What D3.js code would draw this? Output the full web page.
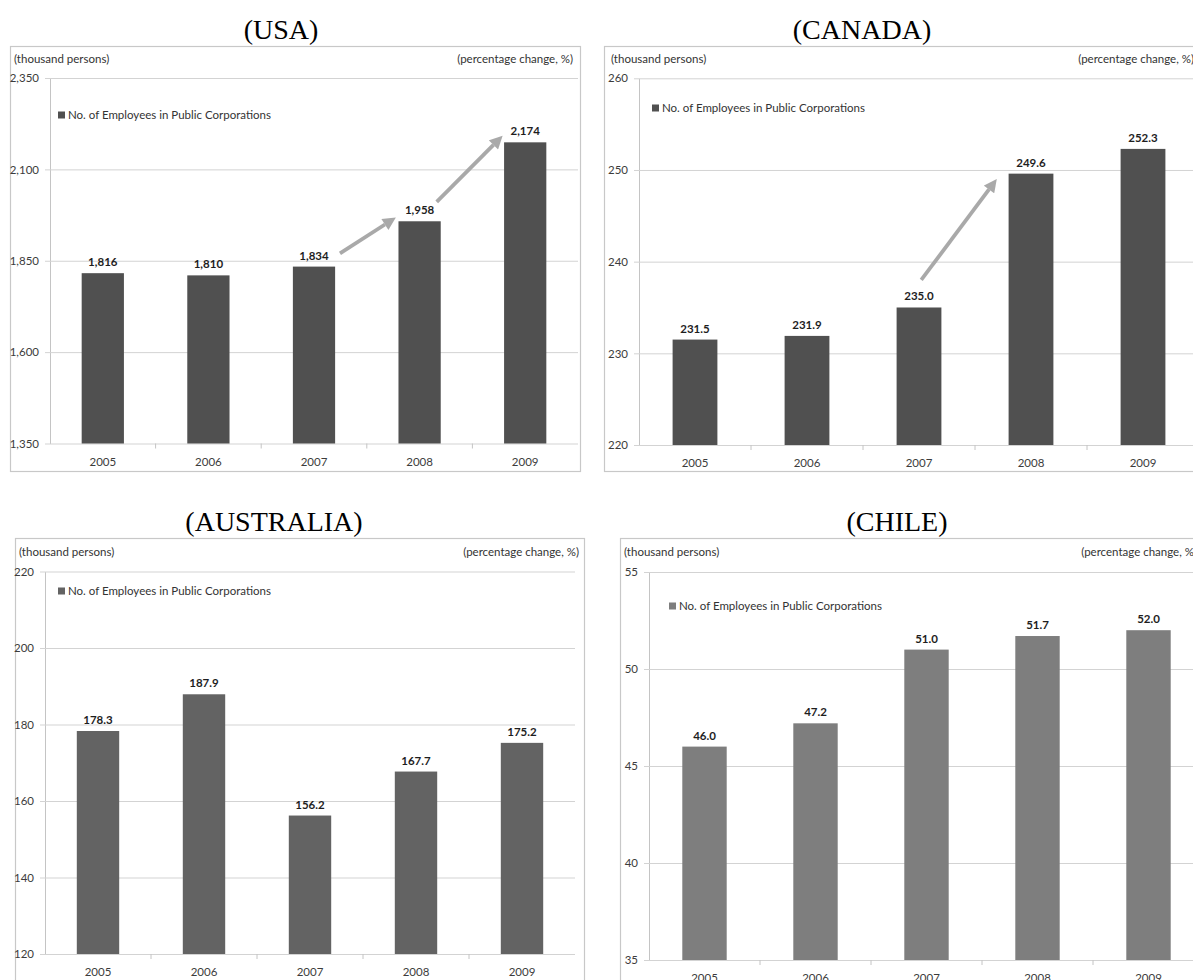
<!DOCTYPE html>
<html>
<head>
<meta charset="utf-8">
<script src="https://cdn.jsdelivr.net/npm/d3@7"></script>
<style>
  body { margin: 0; background: #ffffff; }
  svg { display: block; }
</style>
</head>
<body>
<svg id="chart" width="1193" height="980"></svg>
<script>
// ---- data ----
const years = ["2005", "2006", "2007", "2008", "2009"];

const usaEmployees       = [1816, 1810, 1834, 1958, 2174];
const canadaEmployees    = [231.5, 231.9, 235.0, 249.6, 252.3];
const australiaEmployees = [178.3, 187.9, 156.2, 167.7, 175.2];
const chileEmployees     = [46.0, 47.2, 51.0, 51.7, 52.0];

const usaTicks       = [1350, 1600, 1850, 2100, 2350];
const canadaTicks    = [220, 230, 240, 250, 260];
const australiaTicks = [120, 140, 160, 180, 200, 220];
const chileTicks     = [35, 40, 45, 50, 55];

const countryTitles = ["(USA)", "(CANADA)", "(AUSTRALIA)", "(CHILE)"];
const seriesName = "No. of Employees in Public Corporations";
const unitLeft = "(thousand persons)";
const unitRight = "(percentage change, %)";

// growth arrows, given in data units: year + value at each end,
// plus a fractional shift along the band step
const usaArrows = [
  { from: "2007", fromShift: 0.246, fromValue: 1870, to: "2008", toShift: -0.217, toValue: 1970 },
  { from: "2008", fromShift: 0.162, fromValue: 2011, to: "2009", toShift: -0.207, toValue: 2194 }
];
const canadaArrows = [
  { from: "2007", fromShift: 0.02, fromValue: 238.0, to: "2008", toShift: -0.30, toValue: 249.1 }
];

// ---- layout & style ----
const sansFont = "Lato, 'Open Sans', sans-serif";
const serifFont = "'Liberation Serif', 'Times New Roman', serif";
const smallSize = 11.5;

const panels = [
  {
    title: countryTitles[0], values: usaEmployees, ticks: usaTicks,
    tickFmt: d3.format(","), valueFmt: d3.format(","),
    arrows: usaArrows, barColor: "#505050",
    box: { x: 10, y: 46, w: 570, h: 425 },
    plot: { x0: 50, x1: 578, y0: 78, y1: 443.5 },
    titleX: 281, titleY: 39, headerY: 63, unitLeftX: 14, unitRightX: 573,
    legendX: 58, legendY: 115
  },
  {
    title: countryTitles[1], values: canadaEmployees, ticks: canadaTicks,
    tickFmt: d3.format("d"), valueFmt: d3.format(".1f"),
    arrows: canadaArrows, barColor: "#505050",
    box: { x: 604, y: 46, w: 600, h: 425 },
    plot: { x0: 639, x1: 1199, y0: 78.3, y1: 445 },
    titleX: 862, titleY: 39, headerY: 63, unitLeftX: 611, unitRightX: 1194,
    legendX: 652, legendY: 108
  },
  {
    title: countryTitles[2], values: australiaEmployees, ticks: australiaTicks,
    tickFmt: d3.format("d"), valueFmt: d3.format(".1f"),
    arrows: [], barColor: "#636363",
    box: { x: 15, y: 538, w: 569, h: 470 },
    plot: { x0: 45, x1: 575, y0: 571.5, y1: 954 },
    titleX: 274, titleY: 531, headerY: 556, unitLeftX: 19, unitRightX: 579,
    legendX: 58, legendY: 591
  },
  {
    title: countryTitles[3], values: chileEmployees, ticks: chileTicks,
    tickFmt: d3.format("d"), valueFmt: d3.format(".1f"),
    arrows: [], barColor: "#7e7e7e",
    box: { x: 620, y: 538, w: 600, h: 470 },
    plot: { x0: 649, x1: 1204, y0: 572, y1: 960 },
    titleX: 897, titleY: 531, headerY: 556, unitLeftX: 624, unitRightX: 1197,
    legendX: 669, legendY: 606
  }
];

const svg = d3.select("#chart");
svg.append("rect").attr("width", 1193).attr("height", 980).attr("fill", "#ffffff");

// arrowhead shared by the growth arrows
const headLen = 14;
svg.append("defs").append("marker")
  .attr("id", "growthHead")
  .attr("viewBox", "0 0 10 10")
  .attr("refX", 0).attr("refY", 5)
  .attr("markerUnits", "userSpaceOnUse")
  .attr("markerWidth", headLen).attr("markerHeight", 13)
  .attr("orient", "auto")
  .append("path")
  .attr("d", "M0,0 L10,5 L0,10 Z")
  .attr("fill", "#a9a9a9");

function drawPanel(p) {
  const g = svg.append("g");
  const { x0, x1, y0, y1 } = p.plot;

  // frame
  g.append("rect")
    .attr("x", p.box.x + 0.5).attr("y", p.box.y + 0.5)
    .attr("width", p.box.w).attr("height", p.box.h)
    .attr("fill", "#ffffff").attr("stroke", "#c8c8c8").attr("stroke-width", 1.2);

  // title above the frame
  svg.append("text")
    .attr("x", p.titleX).attr("y", p.titleY)
    .attr("text-anchor", "middle")
    .attr("font-family", serifFont).attr("font-size", 28)
    .attr("fill", "#000").text(p.title);

  // unit captions
  g.append("text")
    .attr("x", p.unitLeftX).attr("y", p.headerY)
    .attr("font-family", sansFont).attr("font-size", smallSize)
    .attr("fill", "#333").text(unitLeft);
  g.append("text")
    .attr("x", p.unitRightX).attr("y", p.headerY)
    .attr("text-anchor", "end")
    .attr("font-family", sansFont).attr("font-size", smallSize)
    .attr("fill", "#333").text(unitRight);

  const x = d3.scaleBand().domain(years).range([x0, x1])
    .paddingInner(0.6).paddingOuter(0.3);
  const y = d3.scaleLinear()
    .domain([p.ticks[0], p.ticks[p.ticks.length - 1]])
    .range([y1, y0]);

  // value axis with full-width gridlines
  const yAxis = d3.axisLeft(y)
    .tickValues(p.ticks).tickFormat(p.tickFmt)
    .tickSizeInner(-(x1 - x0)).tickSizeOuter(0).tickPadding(11);
  const ga = g.append("g")
    .attr("transform", `translate(${x0},0)`)
    .call(yAxis)
    .attr("font-family", sansFont).attr("font-size", smallSize);
  ga.select(".domain").attr("stroke", "#c4c4c4");
  ga.selectAll(".tick line").attr("x1", -5).attr("stroke", "#d3d3d3");
  ga.selectAll(".tick text").attr("fill", "#3c3c3c");

  // category axis
  const xa = g.append("g")
    .attr("transform", `translate(0,${y1})`)
    .call(d3.axisBottom(x).tickSize(0).tickPadding(14))
    .attr("font-family", sansFont).attr("font-size", smallSize);
  xa.select(".domain").remove();
  xa.selectAll(".tick text").attr("fill", "#3c3c3c");

  // boundary tick marks between categories
  const step = x.step();
  g.selectAll(".sep").data(years.slice(1)).enter().append("line")
    .attr("x1", d => x(d) - step * 0.3).attr("x2", d => x(d) - step * 0.3)
    .attr("y1", y1).attr("y2", y1 + 5)
    .attr("stroke", "#c4c4c4");

  const rows = years.map((yr, i) => ({ year: yr, value: p.values[i] }));

  // bars
  g.selectAll(".bar").data(rows).enter().append("rect")
    .attr("x", d => x(d.year)).attr("width", x.bandwidth())
    .attr("y", d => y(d.value)).attr("height", d => y1 - y(d.value))
    .attr("fill", p.barColor);

  // value labels
  g.selectAll(".val").data(rows).enter().append("text")
    .attr("x", d => x(d.year) + x.bandwidth() / 2)
    .attr("y", d => y(d.value) - 7)
    .attr("text-anchor", "middle")
    .attr("font-family", sansFont).attr("font-size", 11.5).attr("font-weight", "bold")
    .attr("fill", "#1e1e1e")
    .text(d => p.valueFmt(d.value));

  // legend
  g.append("rect")
    .attr("x", p.legendX).attr("y", p.legendY - 3.5)
    .attr("width", 7).attr("height", 7).attr("fill", p.barColor);
  g.append("text")
    .attr("x", p.legendX + 10).attr("y", p.legendY + 4)
    .attr("font-family", sansFont).attr("font-size", smallSize)
    .attr("fill", "#333").text(seriesName);

  // growth arrows
  p.arrows.forEach(a => {
    const sx = x(a.from) + x.bandwidth() / 2 + a.fromShift * step;
    const sy = y(a.fromValue);
    const ex = x(a.to) + x.bandwidth() / 2 + a.toShift * step;
    const ey = y(a.toValue);
    const len = Math.hypot(ex - sx, ey - sy);
    const ux = (ex - sx) / len, uy = (ey - sy) / len;
    g.append("line")
      .attr("x1", sx).attr("y1", sy)
      .attr("x2", ex - ux * headLen).attr("y2", ey - uy * headLen)
      .attr("stroke", "#a9a9a9").attr("stroke-width", 3.8)
      .attr("marker-end", "url(#growthHead)");
  });
}

panels.forEach(drawPanel);
</script>
</body>
</html>
